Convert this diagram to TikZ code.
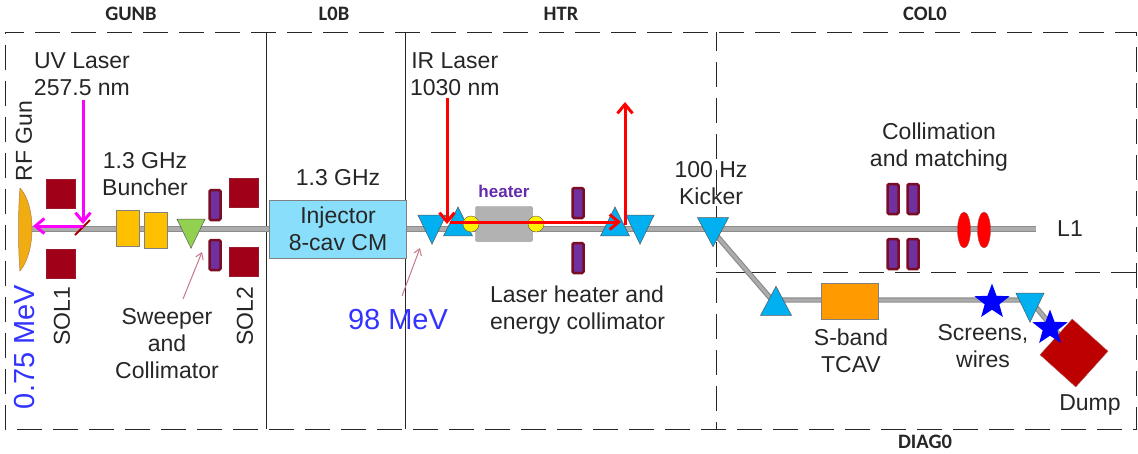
\documentclass[tikz,border=0pt]{standalone}
\usepackage{fontspec}
\setmainfont{Liberation Sans}
\newfontfamily\secfont{Carlito}
\usetikzlibrary{shapes.geometric,arrows.meta}

\definecolor{solred}{HTML}{A00018}
\definecolor{corrpurple}{HTML}{7030A0}
\definecolor{corrline}{HTML}{7A0C24}
\definecolor{bendblue}{HTML}{00B0F0}
\definecolor{mevblue}{HTML}{3333FF}
\definecolor{thinred}{HTML}{C87888}
\definecolor{inktext}{HTML}{262626}
\definecolor{uvpink}{HTML}{FF00FF}
\definecolor{gunorange}{HTML}{F0AC10}
\definecolor{bunchorange}{HTML}{FFC000}
\definecolor{sweepgreen}{HTML}{92D050}
\definecolor{injblue}{HTML}{89DFFB}
\definecolor{tcavorange}{HTML}{FF9A00}
\definecolor{dumpred}{HTML}{BC0000}

\tikzset{
  every node/.style={inner sep=0pt,outer sep=0pt,text=inktext,align=center,font=\fontsize{23}{27}\selectfont},
  beam/.style={draw=gray!90,line width=1.5pt,double=gray!65,double distance=3.5pt},
  frameline/.style={black!85,line width=1pt},
  framedash/.style={black!85,line width=1pt,dash pattern=on 25pt off 11pt,dash phase=6pt},
  sol/.style={rectangle,fill=solred,draw=solred!80!gray,minimum width=29pt,minimum height=29pt},
  corr/.style={rectangle,rounded corners=1.5pt,fill=corrpurple,draw=corrline,line width=2.5pt,minimum width=11pt,minimum height=30pt},
  bunch/.style={rectangle,fill=bunchorange,draw=gray,minimum width=23pt,minimum height=36pt},
  tri/.style={isosceles triangle,isosceles triangle stretches,minimum width=#1,minimum height=29pt,draw=gray!70!black,line width=.5pt},
  bendup/.style={tri=29pt,fill=bendblue,shape border rotate=90},
  benddown/.style={tri=28pt,fill=bendblue,shape border rotate=270},
  laseruv/.style={uvpink,line width=3pt,-{Straight Barb[length=9pt,width=15pt]}},
  laserir/.style={red,line width=3pt,-{Straight Barb[length=9pt,width=15pt]}},
  pointer/.style={thinred,line width=1pt,-{Straight Barb[length=6pt,width=8pt]}},
  sect/.style={font=\secfont\bfseries\fontsize{20.5}{22}\selectfont},
  mev/.style={text=mevblue,font=\fontsize{29}{32}\selectfont},
  star5/.style={star,star points=5,star point ratio=2.4,fill=blue,minimum size=37pt}
}

\begin{document}
\begin{tikzpicture}[x=1pt,y=-1pt]
  \useasboundingbox (0,0) rectangle (1138,453);

  % section frames
  \coordinate (nw) at (5,32);
  \coordinate (ne) at (1136,32);
  \coordinate (sw) at (5,429);
  \coordinate (se) at (1136,429);
  \coordinate (gt) at (266,32);
  \coordinate (gb) at (266,429);
  \coordinate (lt) at (405,32);
  \coordinate (lb) at (405,429);
  \coordinate (ct) at (716,32);
  \coordinate (cb) at (716,429);
  \coordinate (cm) at (716,272);
  \coordinate (cs) at (776,272);
  \coordinate (cd) at (787,272);
  \coordinate (em) at (1136,272);
  \draw[framedash] (nw) -- (ne) -- (se) -- (sw) -- cycle;
  \draw[framedash] (ct) -- (cb);
  \draw[framedash,dash phase=0pt] (cd) -- (em);
  \foreach \from/\to in {gt/gb,lt/lb,cm/cs}
    \draw[frameline] (\from) -- (\to);

  \node[sect] (gunb) at (131,14) {GUNB};
  \node[sect] (lob) at (334,14) {L0B};
  \node[sect] (htr) at (561,14) {HTR};
  \node[sect] (colo) at (925,14) {COL0};
  \node[sect] (diago) at (925,442) {DIAG0};

  % beam line
  \coordinate (b0) at (30,229);
  \coordinate (b1) at (1036,229);
  \coordinate (k1) at (716,235);
  \coordinate (d1) at (772,300);
  \coordinate (d2) at (1030,300);
  \coordinate (d3) at (1074,353);
  \draw[beam] (b0) -- (b1);
  \draw[beam,line width=1.2pt,double distance=3pt] (k1) -- (d1) -- (d2) -- (d3);

  % gun section
  \fill[gunorange,draw=gray!60!orange,line width=.5pt] (20,188) .. controls (36,205) and (36,252) .. (20,271) .. controls (18,250) and (18,208) .. (20,188);
  \foreach \name/\x/\y in {s1/61/194,s2/61/264,s3/244/193,s4/244/262}
    \node[sol] (\name) at (\x,\y) {};
  \foreach \name/\x/\y in {c1/215/205,c2/215/255,c3/578/203,c4/578/258,c5/893/199,c6/913/199,c7/893/254,c8/913/254}
    \node[corr] (\name) at (\x,\y) {};
  \node[bunch] (bn1) at (128,228) {};
  \node[bunch] (bn2) at (156,230) {};
  \node[tri=28pt,fill=sweepgreen,shape border rotate=270] (sw1) at (191,228) {};
  \coordinate (m1) at (75,235);
  \coordinate (m2) at (90,220);
  \draw[red!65!black,line width=1.8pt] (m1) -- (m2);

  \node[anchor=west] (uv) at (34,74) {UV Laser\\257.5 nm};
  \node[rotate=90] (rf) at (24,141) {RF Gun};
  \node (bt) at (145,174) {1.3 GHz\\Buncher};
  \node (swt) at (167,344) {Sweeper\\and\\Collimator};
  \node[rotate=90] (sol1) at (62,316) {SOL1};
  \node[rotate=90] (sol2) at (245,316) {SOL2};
  \node[mev,rotate=90] (mev1) at (25,347) {0.75 MeV};

  \coordinate (uv0) at (83,100);
  \coordinate (uv1) at (83,224);
  \coordinate (uv2) at (83,226);
  \coordinate (uv3) at (33,226);
  \draw[laseruv] (uv0) -- (uv1);
  \draw[laseruv] (uv2) -- (uv3);

  % injector
  \node[rectangle,fill=injblue,draw=gray,line width=1pt,minimum width=137pt,minimum height=58pt] (inj) at (338,229) {};
  \node (injt) at (338,229) {Injector\\8-cav CM};
  \node (ghz) at (338,178) {1.3 GHz};
  \node[mev] (mev2) at (398,320) {98 MeV};

  \coordinate (p1) at (183,299);
  \coordinate (p2) at (202,252);
  \coordinate (p3) at (402,296);
  \coordinate (p4) at (420,248);
  \foreach \from/\to in {p1/p2,p3/p4}
    \draw[pointer] (\from) -- (\to);

  % heater
  \node[benddown] (t1) at (432,224) {};
  \node[bendup] (t2) at (458,227) {};
  \node[bendup] (t3) at (615,227) {};
  \node[benddown] (t4) at (640,224) {};
  \node[benddown,minimum width=31pt] (kick) at (713,227) {};
  \node[rectangle,rounded corners=2pt,fill=gray!60,draw=gray,minimum width=57pt,minimum height=35pt] (htrbox) at (504,224) {};
  \foreach \name/\x in {y1/471,y2/536}
    \node[circle,fill=yellow,draw=gray!70!black,minimum size=16pt] (\name) at (\x,224) {};
  \node[text=corrpurple!90!blue,font=\bfseries\fontsize{17}{20}\selectfont] (ht) at (504,191) {heater};

  \coordinate (ir0) at (447,98);
  \coordinate (ir1) at (447,224);
  \coordinate (ir2) at (450,222);
  \coordinate (ir3) at (621,222);
  \coordinate (ir4) at (625,225);
  \coordinate (ir5) at (625,102);
  \foreach \from/\to in {ir0/ir1,ir2/ir3,ir4/ir5}
    \draw[laserir] (\from) -- (\to);

  \node[anchor=west] (ir) at (410,74) {IR Laser\\1030 nm};
  \node[anchor=west,align=left] (lh) at (490,310) {Laser heater and\\energy collimator};
  \node (kt) at (711,183) {100 Hz\\Kicker};

  % col0
  \node (colt) at (939,147) {Collimation\\and matching};
  \foreach \name/\x in {e1/964,e2/984}
    \node[ellipse,fill=red,draw=gray!60!red,minimum width=13pt,minimum height=36pt] (\name) at (\x,230) {};
  \node (lone) at (1070,229) {L1};

  % diag0
  \node[bendup,minimum width=31pt] (t5) at (776,306) {};
  \node[rectangle,fill=tcavorange,draw=gray,minimum width=57pt,minimum height=36pt] (tcav) at (850,301) {};
  \node (tcavt) at (851,351) {S-band\\TCAV};
  \node[benddown] (t6) at (1030,302) {};
  \node[rectangle,rotate=48,fill=dumpred,draw=gray!60!red,minimum width=48pt,minimum height=48pt] (dump) at (1074,353) {};
  \node[star5] (st1) at (992,302) {};
  \node[star5] (st2) at (1050,328) {};
  \node (scr) at (983,346) {Screens,\\wires};
  \node (dmp) at (1090,405) {Dump};
\end{tikzpicture}
\end{document}
